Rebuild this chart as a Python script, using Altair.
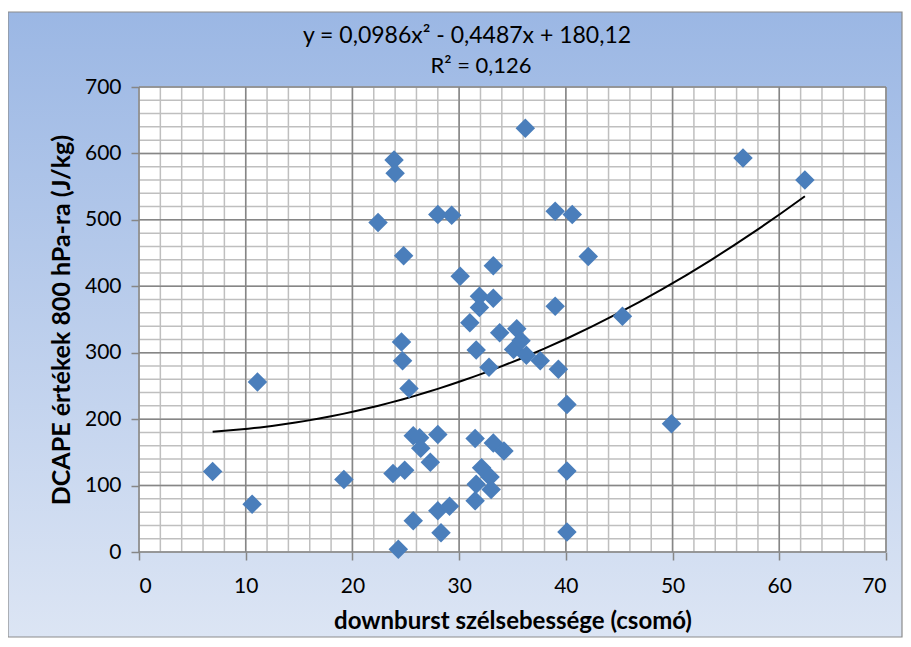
import altair as alt
import pandas as pd

# ---- data ----
x_vals = [6.9, 10.6, 11.1, 19.2, 22.4, 23.9, 24.0, 23.8, 24.3, 24.6,
          24.8, 24.7, 24.9, 25.3, 25.7, 25.7, 26.3, 26.4, 27.3, 28.0,
          28.0, 28.0, 28.3, 29.1, 29.3, 30.1, 31.0, 31.5, 31.5, 31.6,
          31.6, 31.9, 31.9, 32.1, 32.9, 33.0, 32.8, 33.2, 33.2, 33.2,
          33.8, 34.2, 35.1, 35.4, 35.8, 36.3, 36.2, 37.6, 39.0, 39.0,
          39.3, 40.1, 40.1, 40.1, 40.6, 42.1, 45.3, 49.9, 56.6, 62.4]
y_vals = [121, 72, 256, 109, 496, 590, 570, 118, 4, 316,
          446, 288, 123, 246, 47, 175, 172, 156, 135, 508,
          177, 62, 29, 69, 507, 415, 345, 171, 77, 304,
          102, 385, 368, 127, 113, 94, 278, 382, 431, 164,
          330, 152, 305, 336, 318, 296, 638, 288, 513, 370,
          275, 222, 122, 30, 508, 445, 355, 193, 593, 560]

x_major = [0, 10, 20, 30, 40, 50, 60, 70]
x_minor = [0, 2, 4, 6, 8, 10, 12, 14, 16, 18, 20, 22, 24, 26, 28, 30, 32, 34,
           36, 38, 40, 42, 44, 46, 48, 50, 52, 54, 56, 58, 60, 62, 64, 66, 68, 70]
y_major = [0, 100, 200, 300, 400, 500, 600, 700]
y_minor = [0, 20, 40, 60, 80, 100, 120, 140, 160, 180, 200, 220, 240, 260, 280,
           300, 320, 340, 360, 380, 400, 420, 440, 460, 480, 500, 520, 540, 560,
           580, 600, 620, 640, 660, 680, 700]

equation_text = "y = 0,0986x\u00b2 - 0,4487x + 180,12"
r2_text = "R\u00b2 = 0,126"
x_title = "downburst szélsebessége (csomó)"
y_title = "DCAPE értékek  800 hPa-ra (J/kg)"

FONT = "Lato"
W, H = 747, 465

df = pd.DataFrame({"x": x_vals, "y": y_vals})

xscale = alt.Scale(domain=[0, 70], nice=False, zero=False)
yscale = alt.Scale(domain=[0, 700], nice=False)

xaxis = alt.Axis(values=x_major, grid=False, domain=False, ticks=True,
                 tickSize=8, tickWidth=1.5, tickColor="#868686",
                 labelFontSize=21, labelFont=FONT, labelColor="black",
                 labelPadding=15, title=x_title, titleFont=FONT,
                 titleFontSize=24, titleFontWeight="bold", titleColor="black",
                 titlePadding=13, zindex=1)
yaxis = alt.Axis(values=y_major, grid=False, domain=False, ticks=True,
                 tickSize=8, tickWidth=1.5, tickColor="#868686",
                 labelFontSize=21, labelFont=FONT, labelColor="black",
                 labelPadding=10, title=y_title, titleFont=FONT,
                 titleFontSize=25, titleFontWeight="bold", titleColor="black",
                 titlePadding=10, zindex=1)

gradient = alt.Gradient(
    gradient="linear",
    stops=[alt.GradientStop(color="#9bb7e4", offset=0),
           alt.GradientStop(color="#dce5f4", offset=1)],
    x1=0, x2=0, y1=0, y2=1)

one = alt.Data(values=[{}])

bg = alt.Chart(one).mark_rect(fill=gradient, stroke="#8c8c8c", strokeWidth=1.2).encode(
    x=alt.value(-131), x2=alt.value(W + 16), y=alt.value(-75), y2=alt.value(H + 85))

plot_bg = alt.Chart(one).mark_rect(fill="white").encode(
    x=alt.value(0), x2=alt.value(W), y=alt.value(0), y2=alt.value(H))

eq_label = alt.Chart(alt.Data(values=[{"t": equation_text}])).mark_text(
    font=FONT, fontSize=23, color="black", align="center", baseline="middle").encode(
    x=alt.value(328), y=alt.value(-51), text="t:N")
r2_label = alt.Chart(alt.Data(values=[{"t": r2_text}])).mark_text(
    font=FONT, fontSize=22, color="black", align="center", baseline="middle").encode(
    x=alt.value(342), y=alt.value(-21), text="t:N")

gx_minor = alt.Chart(pd.DataFrame({"x": x_minor})).mark_rule(
    color="#bfbfbf", strokeWidth=1.5).encode(x=alt.X("x:Q", scale=xscale, axis=xaxis))
gy_minor = alt.Chart(pd.DataFrame({"y": y_minor})).mark_rule(
    color="#bfbfbf", strokeWidth=1.5).encode(y=alt.Y("y:Q", scale=yscale, axis=yaxis))
gx_major = alt.Chart(pd.DataFrame({"x": x_major})).mark_rule(
    color="#868686", strokeWidth=1.5).encode(x=alt.X("x:Q", scale=xscale, axis=xaxis))
gy_major = alt.Chart(pd.DataFrame({"y": y_major})).mark_rule(
    color="#868686", strokeWidth=1.5).encode(y=alt.Y("y:Q", scale=yscale, axis=yaxis))

trend = alt.Chart(df).transform_regression(
    "x", "y", method="poly", order=2).mark_line(color="black", strokeWidth=2).encode(
    x=alt.X("x:Q", scale=xscale, axis=xaxis),
    y=alt.Y("y:Q", scale=yscale, axis=yaxis))

points = alt.Chart(df).mark_point(shape="diamond", filled=True, size=380,
                                  color="#4a7ebb", opacity=1).encode(
    x=alt.X("x:Q", scale=xscale, axis=xaxis),
    y=alt.Y("y:Q", scale=yscale, axis=yaxis))

chart = alt.layer(bg, plot_bg, eq_label, r2_label, gx_minor, gy_minor, gx_major,
                  gy_major, trend, points).properties(
    width=W, height=H,
    autosize=alt.AutoSizeParams(type="none"),
    padding={"left": 131, "top": 79, "right": 17, "bottom": 86},
).configure_view(stroke=None)

chart.save("out.html", embed_options={"renderer": "svg", "actions": False})
